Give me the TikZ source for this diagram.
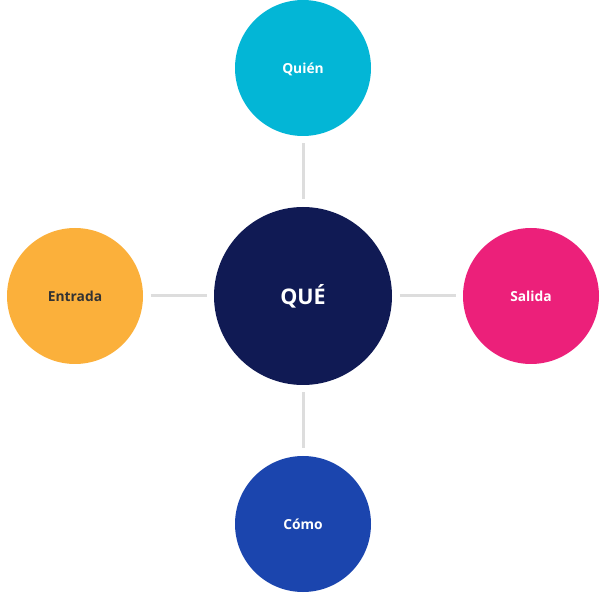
\documentclass[tikz,border=0pt]{standalone}
\usepackage{fontspec}
\setmainfont{Open Sans}
\usepackage{tikz}
\usetikzlibrary{positioning}
\definecolor{queNavy}{RGB}{16,26,84}
\definecolor{quienCyan}{RGB}{3,182,214}
\definecolor{entradaOrange}{RGB}{251,176,59}
\definecolor{salidaPink}{RGB}{236,32,122}
\definecolor{comoBlue}{RGB}{27,69,174}
\definecolor{linkGray}{RGB}{221,221,221}
\definecolor{textDark}{RGB}{51,51,51}
\tikzstyle{bubble} = [circle, minimum size=136pt, inner sep=0pt, outer sep=0pt, text height=11pt, text depth=0pt, font=\bfseries\fontsize{13.8}{16}\selectfont, text=white]
\tikzstyle{bubbleMain} = [bubble, minimum size=178pt, fill=queNavy, text height=17.5pt, font=\bfseries\fontsize{21.5}{24}\selectfont]
\tikzstyle{link} = [draw=linkGray, line width=3pt, shorten >=7.5pt, shorten <=7.5pt]

\begin{document}
\begin{tikzpicture}[x=1pt, y=-1pt, node distance=71pt]
    \useasboundingbox (0,0) rectangle (608,601);
    \node (que) [bubbleMain] at (303,296) {QUÉ};
    \node (quien) [bubble, fill=quienCyan, above=of que] {Quién};
    \node (entrada) [bubble, fill=entradaOrange, text=textDark, left=of que] {Entrada};
    \node (salida) [bubble, fill=salidaPink, right=of que] {Salida};
    \node (como) [bubble, fill=comoBlue, below=of que] {Cómo};

    \draw [link] (quien) -- (que);
    \draw [link] (entrada) -- (que);
    \draw [link] (que) -- (salida);
    \draw [link] (que) -- (como);
\end{tikzpicture}
\end{document}
